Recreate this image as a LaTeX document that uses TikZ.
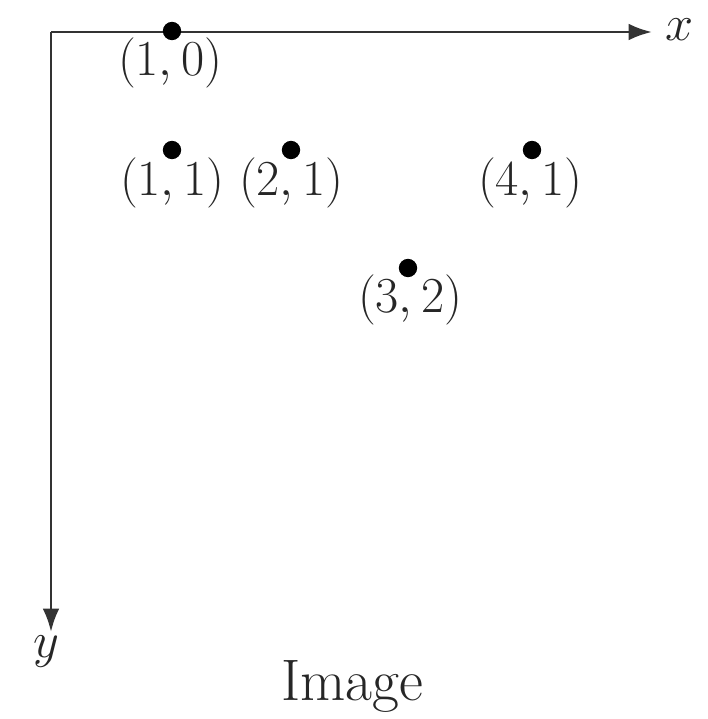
\RequirePackage{fix-cm}
\documentclass[tikz,border=0pt]{standalone}
\usepackage{tikz}
\usetikzlibrary{arrows.meta,positioning}
\tikzset{pixel/.style = {x = 0.03cm, y = -0.03cm},
	axisline/.style = {line width = 2.4pt, draw = black!80, -{Latex[length=7mm, width=5mm]}},
	dotstyle/.style = {circle, fill = black, inner sep = 0pt, minimum size = 0.55cm},
	coordlabel/.style = {font = \fontsize{43}{48}\selectfont, inner sep = 0pt, text = black!85}}

\begin{document}
\begin{tikzpicture}[pixel]

 \useasboundingbox (0,0) rectangle (708,719);

 \coordinate (origin) at (51,32);
 \coordinate (xend) at (652,32);
 \coordinate (yend) at (51,632);
 \draw [axisline] (origin) -- (xend);
 \draw [axisline] (origin) -- (yend);
 \node (xlabel) at (680,30) [coordlabel] {$x$};
 \node (ylabel) at (46,652) [coordlabel] {$y$};

 \node (p10) at (172,31) [dotstyle] {};
 \node (l10) at (170,63) [coordlabel] {$(1,0)$};
 \node (p11) at (172,150) [dotstyle] {};
 \node (l11) at (172,183) [coordlabel] {$(1,1)$};
 \node (p21) at (291,150) [dotstyle] {};
 \node (l21) at (291,183) [coordlabel] {$(2,1)$};
 \node (p41) at (532,150) [dotstyle] {};
 \node (l41) at (530,183) [coordlabel] {$(4,1)$};
 \node (p32) at (408,268) [dotstyle] {};
 \node (l32) at (410,300) [coordlabel] {$(3,2)$};

 \node (title) at (352,686) [coordlabel, font = \fontsize{50}{56}\selectfont] {Image};

\end{tikzpicture}
\end{document}
